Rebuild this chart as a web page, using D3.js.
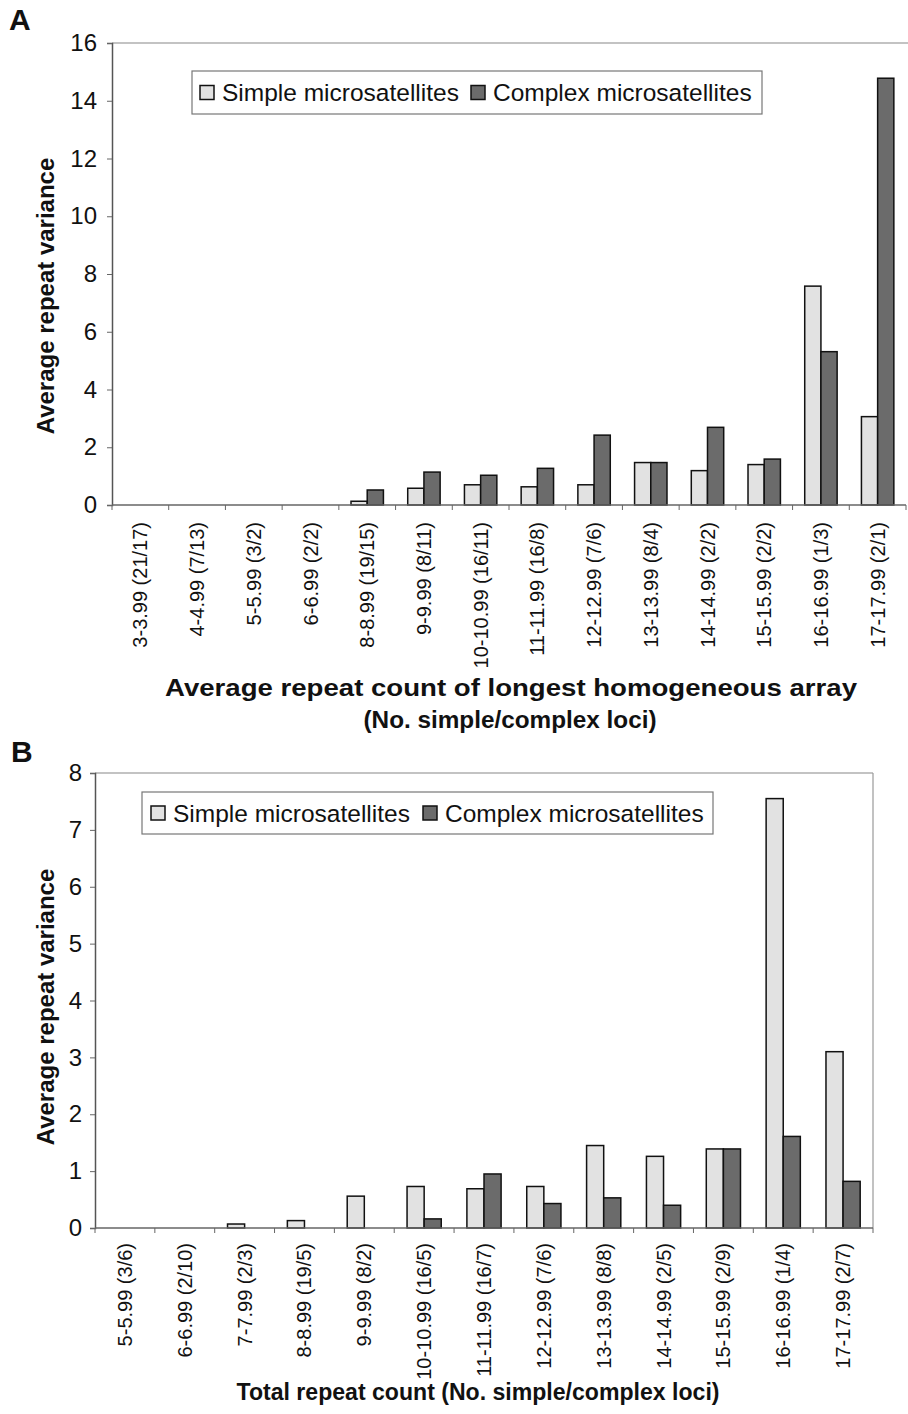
<!DOCTYPE html>
<html><head><meta charset="utf-8">
<script src="https://cdn.jsdelivr.net/npm/d3@7"></script>
<style>body{margin:0;background:#fff}svg{display:block}text{font-family:"Liberation Sans",Arial,Helvetica,sans-serif;fill:#111}</style>
</head><body>
<script>
const seriesNames = ["Simple microsatellites", "Complex microsatellites"];
const catsA = ["3-3.99 (21/17)","4-4.99 (7/13)","5-5.99 (3/2)","6-6.99 (2/2)","8-8.99 (19/15)","9-9.99 (8/11)","10-10.99 (16/11)","11-11.99 (16/8)","12-12.99 (7/6)","13-13.99 (8/4)","14-14.99 (2/2)","15-15.99 (2/2)","16-16.99 (1/3)","17-17.99 (2/1)"];
const simpleA = [0,0,0,0,0.13,0.58,0.70,0.63,0.70,1.47,1.19,1.40,7.58,3.06];
const complexA = [0,0,0,0,0.52,1.14,1.03,1.27,2.42,1.47,2.69,1.59,5.31,14.78];
const ticksA = [0,2,4,6,8,10,12,14,16];
const catsB = ["5-5.99 (3/6)","6-6.99 (2/10)","7-7.99 (2/3)","8-8.99 (19/5)","9-9.99 (8/2)","10-10.99 (16/5)","11-11.99 (16/7)","12-12.99 (7/6)","13-13.99 (8/8)","14-14.99 (2/5)","15-15.99 (2/9)","16-16.99 (1/4)","17-17.99 (2/7)"];
const simpleB = [0,0,0.07,0.13,0.56,0.73,0.69,0.73,1.45,1.26,1.39,7.55,3.10];
const complexB = [0,0,0,0,0,0.16,0.95,0.43,0.53,0.40,1.39,1.61,0.82];
const ticksB = [0,1,2,3,4,5,6,7,8];

const fills = ["#e2e2e2", "#6b6b6b"];

const svg = d3.select("body").append("svg").attr("width", 908).attr("height", 1414);

function panel(o) {
  const g = svg.append("g");
  const x = d3.scaleBand().domain(o.cats).range([o.left, o.right]).padding(0);
  const bw = x.bandwidth();
  const x1 = d3.scaleBand().domain([0,1]).range([bw*0.75/3.5, bw - bw*0.75/3.5]).padding(0);
  const y = d3.scaleLinear().domain([0, o.max]).range([o.bottom, o.top]);

  // frame lines
  g.append("line").attr("x1", o.left).attr("x2", o.frameRight).attr("y1", o.top).attr("y2", o.top)
    .attr("stroke", "#888").attr("stroke-width", 1.2);
  if (o.rightBorder) g.append("line").attr("x1", o.right).attr("x2", o.right).attr("y1", o.top).attr("y2", o.bottom)
    .attr("stroke", "#999").attr("stroke-width", 1.2);

  // bars
  const data = [];
  o.cats.forEach((c, i) => {
    [o.s[i], o.c[i]].forEach((v, k) => { if (v > 0) data.push({c, k, v}); });
  });
  g.selectAll("rect.bar").data(data).enter().append("rect").attr("class", "bar")
    .attr("x", d => x(d.c) + x1(d.k)).attr("width", x1.bandwidth())
    .attr("y", d => y(d.v)).attr("height", d => y(0) - y(d.v))
    .attr("fill", d => fills[d.k]).attr("stroke", "#111").attr("stroke-width", 1.5);

  // y axis
  const ya = g.append("g").attr("transform", `translate(${o.left},0)`)
    .call(d3.axisLeft(y).tickValues(o.ticks).tickSize(5).tickPadding(o.tickPad).tickFormat(d3.format("d")));
  ya.select(".domain").attr("stroke", "#555").attr("stroke-width", 1.5);
  ya.selectAll(".tick line").attr("stroke", "#666");
  ya.selectAll("text").style("font-size", "24px").attr("fill", "#111");

  // x axis: baseline and tick marks at band boundaries
  g.append("line").attr("x1", o.left).attr("x2", o.right).attr("y1", y(0)).attr("y2", y(0))
    .attr("stroke", "#666").attr("stroke-width", 1.5);
  const bounds = o.cats.map(c => x(c)).concat([x.range()[1]]);
  g.selectAll("line.xt").data(bounds).enter().append("line").attr("class", "xt")
    .attr("x1", d => d).attr("x2", d => d).attr("y1", y(0)).attr("y2", y(0) + 5)
    .attr("stroke", "#666");
  g.selectAll("text.xl").data(o.cats).enter().append("text").attr("class", "xl")
    .attr("transform", d => `translate(${x(d) + bw/2},${y(0) + o.labelGap}) rotate(-90)`)
    .attr("text-anchor", "end").attr("dy", "0.35em").style("font-size", "20px").text(d => d);

  // legend
  const lg = g.append("g");
  lg.append("rect").attr("x", o.leg.x).attr("y", o.leg.y).attr("width", o.leg.w).attr("height", o.leg.h)
    .attr("fill", "#fff").attr("stroke", "#777").attr("stroke-width", 1.2);
  seriesNames.forEach((n, k) => {
    lg.append("rect").attr("x", o.leg.sx[k]).attr("y", o.leg.y + o.leg.h/2 - 7).attr("width", 14).attr("height", 14)
      .attr("fill", fills[k]).attr("stroke", "#111").attr("stroke-width", 1.5);
    lg.append("text").attr("x", o.leg.sx[k] + 22).attr("y", o.leg.y + o.leg.h/2 + 8.5)
      .style("font-size", "24.5px").text(n);
  });

  // titles
  g.append("text").attr("transform", `translate(54,${o.yTitleY}) rotate(-90)`).attr("text-anchor", "middle")
    .style("font-size", "24px").style("font-weight", "bold").text("Average repeat variance");
  o.xTitle.forEach(t => {
    g.append("text").attr("x", t.cx).attr("y", t.y).attr("text-anchor", "middle")
      .attr("textLength", t.len).attr("lengthAdjust", "spacingAndGlyphs")
      .style("font-size", "23px").style("font-weight", "bold").text(t.text);
  });
  g.append("text").attr("x", o.panelX).attr("y", o.panelY).style("font-size", "30px").style("font-weight", "bold").text(o.panel);
}

panel({cats: catsA, s: simpleA, c: complexA, ticks: ticksA, max: 16,
  left: 112, right: 906, frameRight: 908, top: 43, bottom: 505, rightBorder: false, tickPad: 10, labelGap: 17,
  leg: {x: 192, y: 71, w: 570, h: 43, sx: [200, 471]},
  yTitleY: 296, panel: "A", panelX: 9, panelY: 30,
  xTitle: [{text: "Average repeat count of longest homogeneous array", cx: 511, y: 696, len: 692},
           {text: "(No. simple/complex loci)", cx: 510, y: 728, len: 293}]});

panel({cats: catsB, s: simpleB, c: complexB, ticks: ticksB, max: 8,
  left: 95, right: 873, frameRight: 873, top: 773, bottom: 1228, rightBorder: true, tickPad: 8, labelGap: 15,
  leg: {x: 142, y: 792, w: 571, h: 42, sx: [151, 423]},
  yTitleY: 1007, panel: "B", panelX: 11, panelY: 762,
  xTitle: [{text: "Total repeat count (No. simple/complex loci)", cx: 478, y: 1400, len: 483}]});
</script>
</body></html>
